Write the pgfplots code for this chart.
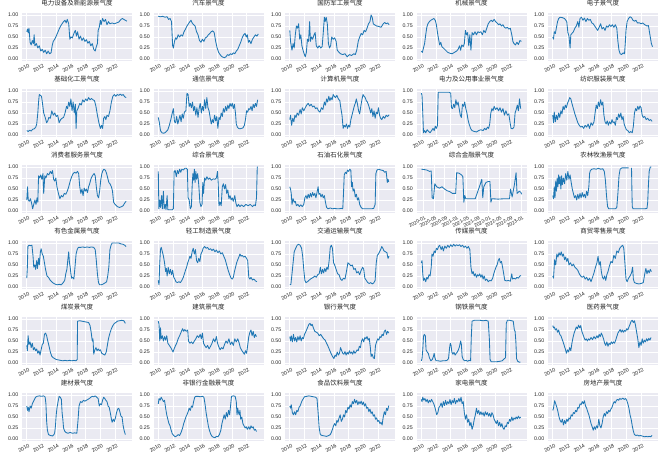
\documentclass[border=0pt]{standalone}
\usepackage{fontspec}
\setmainfont{Liberation Sans}
\newfontfamily\cjk{Noto Sans CJK SC}
\usepackage{pgfplots}
\pgfplotsset{compat=1.18}
\definecolor{bgc}{HTML}{EAEAF2}
\definecolor{c1}{HTML}{1F77B4}
\definecolor{tc}{HTML}{262626}
\pgfplotsset{
  sub/.style={
    scale only axis, width=110bp, height=48.4bp,
    axis background/.style={fill=bgc},
    axis line style={draw=none},
    major tick length=0pt,
    grid=major, grid style={white, line width=0.7bp},
    xmin=2009.35, xmax=2024.3, ymin=-0.05, ymax=1.05,
    xtick={2010,2012,2014,2016,2018,2020,2022},
    xticklabels={2010,2012,2014,2016,2018,2020,2022},
    ytick={0,0.25,0.5,0.75,1},
    yticklabels={0.00,0.25,0.50,0.75,1.00},
    yticklabel style={font=\fontsize{5.3}{6}\selectfont, text=tc, inner sep=0pt, xshift=-3.5bp},
    xticklabel style={font=\fontsize{5.3}{6}\selectfont, text=tc, rotate=30, anchor=north east, inner sep=0pt, yshift=-2.5bp},
    title style={font=\cjk\fontsize{6.5}{7}\selectfont, text=tc, at={(0.5,1)}, anchor=south, inner sep=1bp},
    unbounded coords=jump,
  }
}
\newcommand{\panel}[5][]{%
  \begin{axis}[sub, at={({22bp+131.5bp*#2},{-12.8bp-76bp*#3})}, anchor=north west, title={#4}, #1]
  \addplot[c1, line width=0.85bp, no marks, line join=round] coordinates {#5};
  \end{axis}}
\begin{document}
\begin{tikzpicture}
\path[use as bounding box] (0,0) rectangle (664bp,-459bp);
% Row 1
\panel{0}{0}{电力设备及新能源景气度}{(2010.0,0.62)(2010.1,0.68)(2010.2,0.60)(2010.3,0.70)(2010.45,0.38)(2010.6,0.32)(2010.75,0.42)(2010.9,0.35)(2011.0,0.55)(2011.1,0.30)(2011.3,0.35)(2011.5,0.25)(2011.7,0.30)(2011.9,0.18)(2012.1,0.22)(2012.3,0.15)(2012.5,0.20)(2012.7,0.12)(2012.9,0.18)(2013.1,0.12)(2013.3,0.14)(2013.45,0.30)(2013.6,0.40)(2013.8,0.45)(2014.0,0.52)(2014.2,0.60)(2014.4,0.68)(2014.6,0.75)(2014.8,0.80)(2015.0,0.85)(2015.2,0.88)(2015.35,0.82)(2015.5,0.90)(2015.7,0.80)(2015.85,0.45)(2016.0,0.50)(2016.2,0.48)(2016.4,0.58)(2016.6,0.65)(2016.75,0.52)(2016.9,0.62)(2017.1,0.45)(2017.3,0.52)(2017.5,0.42)(2017.7,0.48)(2017.9,0.40)(2018.1,0.44)(2018.3,0.36)(2018.5,0.40)(2018.7,0.30)(2018.9,0.35)(2019.1,0.22)(2019.3,0.18)(2019.45,0.28)(2019.6,0.35)(2019.7,0.65)(2019.85,0.72)(2020.0,0.88)(2020.1,0.78)(2020.3,0.92)(2020.5,0.85)(2020.7,0.90)(2020.9,0.78)(2021.1,0.85)(2021.3,0.80)(2021.6,0.82)(2021.9,0.80)(2022.2,0.82)(2022.5,0.84)(2022.8,0.90)(2023.0,0.92)(2023.2,0.90)(2023.4,0.88)(2023.6,0.86)}
\panel{1}{0}{汽车景气度}{(2010.0,0.97)(2010.3,0.96)(2010.6,0.97)(2010.9,0.95)(2011.2,0.96)(2011.4,0.90)(2011.6,0.92)(2011.8,0.85)(2011.95,0.30)(2012.05,0.25)(2012.2,0.40)(2012.35,0.48)(2012.5,0.45)(2012.7,0.55)(2012.9,0.50)(2013.1,0.55)(2013.3,0.52)(2013.5,0.62)(2013.7,0.68)(2013.9,0.75)(2014.1,0.80)(2014.3,0.85)(2014.45,0.88)(2014.6,0.82)(2014.8,0.78)(2015.0,0.75)(2015.2,0.62)(2015.4,0.55)(2015.6,0.42)(2015.8,0.38)(2016.0,0.45)(2016.2,0.40)(2016.4,0.48)(2016.6,0.50)(2016.8,0.55)(2017.0,0.58)(2017.2,0.62)(2017.4,0.64)(2017.6,0.60)(2017.8,0.40)(2018.0,0.25)(2018.2,0.15)(2018.4,0.10)(2018.6,0.06)(2018.8,0.04)(2019.0,0.03)(2019.2,0.05)(2019.4,0.10)(2019.6,0.08)(2019.8,0.12)(2020.0,0.10)(2020.2,0.14)(2020.4,0.12)(2020.6,0.18)(2020.8,0.22)(2021.0,0.30)(2021.2,0.38)(2021.4,0.48)(2021.6,0.55)(2021.8,0.58)(2021.95,0.50)(2022.1,0.55)(2022.25,0.38)(2022.4,0.42)(2022.6,0.35)(2022.8,0.45)(2023.0,0.50)(2023.2,0.55)(2023.4,0.52)(2023.6,0.57)}
\panel{2}{0}{国防军工景气度}{(2010.0,0.65)(2010.1,0.40)(2010.2,0.30)(2010.3,0.20)(2010.45,0.35)(2010.6,0.25)(2010.75,0.55)(2010.9,0.75)(2011.05,0.70)(2011.2,0.80)(2011.35,0.45)(2011.5,0.55)(2011.65,0.30)(2011.8,0.20)(2011.95,0.12)(2012.1,0.05)(2012.25,0.15)(2012.4,0.45)(2012.55,0.40)(2012.7,0.85)(2012.8,0.40)(2012.95,0.50)(2013.1,0.45)(2013.3,0.55)(2013.45,0.60)(2013.6,0.30)(2013.8,0.25)(2014.0,0.30)(2014.2,0.25)(2014.4,0.28)(2014.55,0.60)(2014.7,0.95)(2014.8,0.85)(2014.95,0.95)(2015.1,0.80)(2015.25,0.35)(2015.4,0.25)(2015.55,0.30)(2015.7,0.50)(2015.9,0.45)(2016.1,0.48)(2016.3,0.40)(2016.45,0.20)(2016.7,0.15)(2016.9,0.12)(2017.2,0.10)(2017.5,0.12)(2017.8,0.05)(2018.1,0.10)(2018.4,0.08)(2018.7,0.12)(2018.9,0.10)(2019.1,0.20)(2019.3,0.40)(2019.5,0.50)(2019.7,0.58)(2019.9,0.55)(2020.1,0.65)(2020.3,0.62)(2020.5,0.70)(2020.7,0.80)(2020.9,0.85)(2021.05,1.00)(2021.2,0.95)(2021.35,0.80)(2021.5,0.78)(2021.8,0.75)(2022.1,0.74)(2022.4,0.72)(2022.7,0.80)(2022.9,0.83)(2023.1,0.80)(2023.3,0.82)(2023.5,0.78)}
\panel{3}{0}{机械景气度}{(2010.0,0.18)(2010.15,0.15)(2010.3,0.25)(2010.45,0.35)(2010.6,0.55)(2010.75,0.72)(2010.9,0.80)(2011.1,0.85)(2011.3,0.88)(2011.5,0.90)(2011.7,0.92)(2011.9,0.88)(2012.05,0.78)(2012.2,0.60)(2012.35,0.45)(2012.5,0.32)(2012.65,0.38)(2012.8,0.28)(2013.0,0.25)(2013.3,0.20)(2013.6,0.15)(2013.9,0.13)(2014.2,0.12)(2014.5,0.15)(2014.8,0.18)(2015.0,0.22)(2015.2,0.30)(2015.35,0.20)(2015.5,0.32)(2015.7,0.28)(2015.85,0.35)(2016.0,0.65)(2016.15,0.55)(2016.3,0.60)(2016.45,0.30)(2016.6,0.55)(2016.75,0.20)(2016.9,0.60)(2017.1,0.55)(2017.3,0.62)(2017.5,0.55)(2017.7,0.62)(2017.9,0.60)(2018.1,0.62)(2018.3,0.55)(2018.5,0.65)(2018.7,0.60)(2018.9,0.70)(2019.1,0.80)(2019.3,0.85)(2019.5,0.88)(2019.7,0.85)(2019.9,0.90)(2020.1,0.85)(2020.3,0.82)(2020.5,0.78)(2020.7,0.80)(2020.9,0.75)(2021.1,0.78)(2021.3,0.72)(2021.5,0.70)(2021.7,0.72)(2021.9,0.68)(2022.1,0.70)(2022.3,0.55)(2022.45,0.40)(2022.6,0.35)(2022.8,0.32)(2023.0,0.38)(2023.2,0.33)(2023.4,0.42)(2023.6,0.40)}
\panel{4}{0}{电子景气度}{(2010.0,0.50)(2010.1,0.45)(2010.2,0.62)(2010.35,0.58)(2010.5,0.72)(2010.65,0.85)(2010.8,0.92)(2011.0,0.95)(2011.3,0.94)(2011.6,0.92)(2011.9,0.85)(2012.05,0.60)(2012.2,0.52)(2012.35,0.25)(2012.45,0.55)(2012.6,0.58)(2012.8,0.62)(2013.0,0.70)(2013.2,0.75)(2013.4,0.85)(2013.55,0.72)(2013.7,0.92)(2013.9,0.95)(2014.1,0.88)(2014.3,0.93)(2014.5,0.85)(2014.7,0.92)(2014.9,0.88)(2015.1,0.90)(2015.3,0.82)(2015.5,0.80)(2015.7,0.75)(2015.9,0.70)(2016.1,0.65)(2016.3,0.72)(2016.5,0.80)(2016.7,0.68)(2016.9,0.72)(2017.1,0.65)(2017.3,0.75)(2017.5,0.72)(2017.7,0.78)(2017.9,0.74)(2018.1,0.78)(2018.3,0.72)(2018.5,0.78)(2018.7,0.70)(2018.85,0.40)(2019.0,0.20)(2019.15,0.12)(2019.35,0.10)(2019.55,0.14)(2019.75,0.12)(2019.85,0.35)(2019.95,0.65)(2020.1,0.85)(2020.3,0.92)(2020.5,0.96)(2020.7,0.94)(2020.9,0.88)(2021.1,0.86)(2021.3,0.88)(2021.5,0.82)(2021.8,0.82)(2022.0,0.80)(2022.2,0.82)(2022.5,0.78)(2022.8,0.75)(2023.0,0.76)(2023.2,0.55)(2023.4,0.35)(2023.55,0.28)}
% Row 2
\panel{0}{1}{基础化工景气度}{(2010.0,0.10)(2010.2,0.08)(2010.4,0.11)(2010.6,0.09)(2010.8,0.13)(2011.0,0.14)(2011.2,0.17)(2011.35,0.25)(2011.5,0.50)(2011.6,0.75)(2011.7,0.92)(2011.85,0.90)(2012.0,0.88)(2012.15,0.70)(2012.3,0.50)(2012.5,0.40)(2012.7,0.28)(2012.85,0.32)(2013.0,0.40)(2013.2,0.38)(2013.4,0.55)(2013.6,0.45)(2013.8,0.50)(2014.0,0.42)(2014.2,0.45)(2014.4,0.28)(2014.6,0.35)(2014.8,0.38)(2015.0,0.40)(2015.2,0.50)(2015.4,0.65)(2015.55,0.60)(2015.7,0.75)(2015.85,0.65)(2016.0,0.82)(2016.15,0.55)(2016.3,0.75)(2016.45,0.50)(2016.6,0.70)(2016.7,0.15)(2016.8,0.55)(2017.0,0.62)(2017.2,0.72)(2017.4,0.68)(2017.6,0.80)(2017.8,0.75)(2018.0,0.82)(2018.2,0.78)(2018.4,0.85)(2018.6,0.80)(2018.8,0.83)(2019.0,0.80)(2019.2,0.78)(2019.4,0.65)(2019.6,0.45)(2019.8,0.28)(2020.0,0.15)(2020.15,0.22)(2020.3,0.15)(2020.45,0.38)(2020.6,0.42)(2020.75,0.35)(2020.9,0.45)(2021.1,0.42)(2021.3,0.55)(2021.5,0.75)(2021.7,0.88)(2021.9,0.92)(2022.1,0.88)(2022.3,0.92)(2022.5,0.90)(2022.7,0.93)(2022.9,0.90)(2023.1,0.92)(2023.3,0.87)(2023.5,0.85)}
\panel{1}{1}{通信景气度}{(2010.0,0.40)(2010.15,0.28)(2010.3,0.10)(2010.5,0.05)(2010.7,0.04)(2010.9,0.05)(2011.1,0.08)(2011.3,0.12)(2011.5,0.22)(2011.7,0.35)(2011.9,0.50)(2012.05,0.60)(2012.2,0.30)(2012.35,0.28)(2012.5,0.42)(2012.65,0.25)(2012.8,0.35)(2012.95,0.45)(2013.1,0.30)(2013.25,0.48)(2013.4,0.38)(2013.55,0.52)(2013.75,0.55)(2013.9,0.95)(2014.05,0.92)(2014.2,0.65)(2014.35,0.72)(2014.5,0.62)(2014.65,0.75)(2014.8,0.55)(2014.95,0.65)(2015.1,0.45)(2015.25,0.62)(2015.4,0.40)(2015.55,0.60)(2015.7,0.72)(2015.85,0.50)(2016.0,0.65)(2016.15,0.55)(2016.3,0.80)(2016.45,0.60)(2016.6,0.85)(2016.75,0.62)(2016.9,0.55)(2017.05,0.40)(2017.2,0.25)(2017.35,0.35)(2017.5,0.28)(2017.65,0.45)(2017.8,0.32)(2017.95,0.42)(2018.1,0.15)(2018.25,0.40)(2018.4,0.35)(2018.55,0.50)(2018.7,0.42)(2018.85,0.60)(2019.0,0.52)(2019.15,0.65)(2019.3,0.55)(2019.45,0.68)(2019.6,0.60)(2019.75,0.72)(2019.9,0.65)(2020.05,0.72)(2020.2,0.60)(2020.35,0.70)(2020.5,0.48)(2020.6,0.25)(2020.75,0.18)(2020.9,0.15)(2021.1,0.14)(2021.3,0.15)(2021.5,0.16)(2021.7,0.22)(2021.85,0.35)(2022.0,0.55)(2022.15,0.52)(2022.3,0.60)(2022.45,0.58)(2022.6,0.65)(2022.75,0.55)(2022.9,0.70)(2023.05,0.62)(2023.2,0.72)(2023.35,0.65)(2023.5,0.80)}
\panel{2}{1}{计算机景气度}{(2010.0,0.35)(2010.1,0.45)(2010.25,0.22)(2010.4,0.38)(2010.55,0.30)(2010.7,0.45)(2010.85,0.40)(2011.0,0.50)(2011.2,0.45)(2011.4,0.58)(2011.55,0.48)(2011.7,0.62)(2011.9,0.55)(2012.1,0.62)(2012.3,0.68)(2012.5,0.72)(2012.7,0.66)(2012.9,0.70)(2013.1,0.64)(2013.3,0.66)(2013.5,0.60)(2013.7,0.62)(2013.9,0.55)(2014.1,0.52)(2014.3,0.62)(2014.5,0.58)(2014.7,0.75)(2014.85,0.68)(2015.0,0.82)(2015.15,0.75)(2015.3,0.88)(2015.45,0.78)(2015.6,0.85)(2015.75,0.80)(2015.9,0.92)(2016.05,0.88)(2016.2,0.85)(2016.4,0.90)(2016.6,0.82)(2016.8,0.78)(2016.95,0.60)(2017.1,0.45)(2017.25,0.15)(2017.4,0.22)(2017.55,0.18)(2017.7,0.25)(2017.85,0.15)(2018.0,0.22)(2018.15,0.18)(2018.3,0.35)(2018.45,0.45)(2018.6,0.55)(2018.75,0.65)(2018.9,0.72)(2019.05,0.82)(2019.2,0.70)(2019.35,0.55)(2019.5,0.48)(2019.65,0.65)(2019.8,0.80)(2019.95,0.92)(2020.1,0.88)(2020.25,0.85)(2020.4,0.78)(2020.55,0.75)(2020.7,0.68)(2020.85,0.60)(2021.0,0.50)(2021.15,0.60)(2021.3,0.42)(2021.45,0.55)(2021.6,0.38)(2021.75,0.52)(2021.9,0.48)(2022.05,0.62)(2022.2,0.45)(2022.35,0.38)(2022.5,0.35)(2022.7,0.42)(2022.9,0.38)(2023.1,0.45)(2023.3,0.42)(2023.5,0.46)}
\panel{3}{1}{电力及公用事业景气度}{(2010.0,0.95)(2010.1,0.90)(2010.2,0.50)(2010.3,0.05)(2010.45,0.10)(2010.6,0.05)(2010.8,0.12)(2011.0,0.08)(2011.2,0.05)(2011.4,0.10)(2011.6,0.15)(2011.75,0.10)(2011.9,0.20)(2012.05,0.15)(2012.2,0.22)(2012.3,0.97)(2012.6,0.97)(2013.0,0.97)(2013.4,0.97)(2013.8,0.97)(2014.0,0.95)(2014.1,0.62)(2014.25,0.60)(2014.4,0.70)(2014.55,0.62)(2014.7,0.80)(2014.85,0.68)(2015.0,0.75)(2015.15,0.60)(2015.3,0.45)(2015.45,0.40)(2015.6,0.70)(2015.75,0.65)(2015.9,0.75)(2016.05,0.60)(2016.2,0.50)(2016.35,0.35)(2016.5,0.25)(2016.7,0.15)(2016.9,0.10)(2017.2,0.08)(2017.5,0.07)(2017.8,0.10)(2018.1,0.12)(2018.4,0.10)(2018.6,0.15)(2018.8,0.12)(2019.0,0.18)(2019.15,0.15)(2019.3,0.25)(2019.45,0.50)(2019.6,0.60)(2019.75,0.55)(2019.9,0.65)(2020.1,0.58)(2020.3,0.62)(2020.5,0.55)(2020.7,0.62)(2020.9,0.52)(2021.1,0.60)(2021.3,0.45)(2021.5,0.55)(2021.7,0.45)(2021.9,0.48)(2022.05,0.30)(2022.2,0.15)(2022.4,0.14)(2022.6,0.18)(2022.75,0.50)(2022.9,0.58)(2023.05,0.68)(2023.2,0.55)(2023.35,0.82)(2023.5,0.60)}
\panel{4}{1}{纺织服装景气度}{(2010.0,0.45)(2010.1,0.28)(2010.2,0.52)(2010.35,0.30)(2010.5,0.45)(2010.65,0.35)(2010.8,0.50)(2010.95,0.40)(2011.1,0.55)(2011.25,0.48)(2011.4,0.65)(2011.55,0.58)(2011.7,0.68)(2011.85,0.62)(2012.0,0.72)(2012.15,0.78)(2012.3,0.85)(2012.45,0.82)(2012.6,0.72)(2012.8,0.60)(2013.0,0.48)(2013.2,0.38)(2013.4,0.28)(2013.6,0.22)(2013.8,0.18)(2014.0,0.20)(2014.2,0.15)(2014.4,0.22)(2014.6,0.18)(2014.8,0.25)(2015.0,0.15)(2015.2,0.28)(2015.4,0.22)(2015.6,0.30)(2015.75,0.50)(2015.9,0.68)(2016.05,0.60)(2016.2,0.75)(2016.35,0.65)(2016.5,0.80)(2016.65,0.68)(2016.8,0.75)(2016.95,0.45)(2017.1,0.30)(2017.25,0.25)(2017.4,0.32)(2017.55,0.22)(2017.7,0.30)(2017.9,0.25)(2018.05,0.35)(2018.2,0.28)(2018.35,0.30)(2018.5,0.22)(2018.65,0.40)(2018.8,0.35)(2018.95,0.48)(2019.1,0.40)(2019.25,0.50)(2019.4,0.35)(2019.55,0.42)(2019.7,0.25)(2019.85,0.18)(2020.0,0.12)(2020.2,0.10)(2020.4,0.05)(2020.6,0.08)(2020.8,0.05)(2020.95,0.20)(2021.1,0.50)(2021.25,0.60)(2021.4,0.55)(2021.55,0.65)(2021.7,0.58)(2021.85,0.66)(2022.0,0.62)(2022.15,0.45)(2022.3,0.40)(2022.5,0.42)(2022.7,0.35)(2022.9,0.38)(2023.1,0.33)(2023.3,0.35)(2023.5,0.31)}
% Row 3
\panel{0}{2}{消费者服务景气度}{(2010.0,0.25)(2010.1,0.55)(2010.2,0.25)(2010.35,0.22)(2010.5,0.28)(2010.65,0.18)(2010.8,0.05)(2010.95,0.15)(2011.1,0.25)(2011.25,0.15)(2011.4,0.30)(2011.5,0.20)(2011.6,0.80)(2011.75,0.75)(2011.9,0.82)(2012.05,0.72)(2012.2,0.85)(2012.3,0.40)(2012.45,0.80)(2012.6,0.75)(2012.8,0.85)(2013.0,0.82)(2013.2,0.90)(2013.35,0.85)(2013.5,0.92)(2013.65,0.72)(2013.8,0.68)(2013.95,0.75)(2014.1,0.55)(2014.3,0.40)(2014.5,0.28)(2014.7,0.35)(2014.9,0.32)(2015.1,0.40)(2015.3,0.38)(2015.5,0.45)(2015.7,0.55)(2015.9,0.68)(2016.1,0.78)(2016.3,0.85)(2016.5,0.88)(2016.7,0.86)(2016.9,0.90)(2017.05,0.85)(2017.2,0.55)(2017.35,0.40)(2017.5,0.50)(2017.65,0.35)(2017.8,0.52)(2017.95,0.45)(2018.1,0.50)(2018.25,0.42)(2018.4,0.55)(2018.55,0.62)(2018.7,0.72)(2018.85,0.78)(2019.0,0.82)(2019.15,0.85)(2019.3,0.80)(2019.45,0.55)(2019.6,0.35)(2019.75,0.30)(2019.9,0.45)(2020.05,0.70)(2020.2,0.85)(2020.35,0.92)(2020.5,0.95)(2020.7,0.92)(2020.85,0.85)(2021.0,0.75)(2021.15,0.65)(2021.3,0.62)(2021.5,0.55)(2021.65,0.45)(2021.8,0.20)(2022.0,0.15)(2022.3,0.10)(2022.6,0.08)(2022.9,0.10)(2023.1,0.12)(2023.3,0.18)(2023.5,0.22)}
\panel{1}{2}{综合景气度}{(2010.0,0.90)(2010.08,0.05)(2010.2,0.25)(2010.3,0.08)(2010.45,0.35)(2010.55,0.05)(2010.7,0.45)(2010.8,0.05)(2010.95,0.15)(2011.05,0.03)(2011.2,0.35)(2011.3,0.03)(2011.6,0.03)(2011.9,0.03)(2012.05,0.05)(2012.15,0.90)(2012.3,0.92)(2012.45,0.78)(2012.6,0.92)(2012.75,0.85)(2012.9,0.95)(2013.05,0.88)(2013.2,0.95)(2013.4,0.93)(2013.6,0.97)(2013.8,0.97)(2013.95,0.95)(2014.05,0.30)(2014.2,0.25)(2014.35,0.05)(2014.5,0.10)(2014.6,0.55)(2014.7,0.85)(2014.8,0.70)(2014.9,0.95)(2015.0,0.65)(2015.1,0.90)(2015.2,0.72)(2015.35,0.85)(2015.5,0.60)(2015.65,0.20)(2015.8,0.10)(2015.95,0.15)(2016.05,0.65)(2016.15,0.40)(2016.3,0.75)(2016.45,0.70)(2016.6,0.78)(2016.8,0.72)(2017.0,0.75)(2017.2,0.70)(2017.45,0.73)(2017.7,0.72)(2017.9,0.75)(2018.05,0.90)(2018.15,0.60)(2018.25,0.12)(2018.4,0.20)(2018.55,0.12)(2018.7,0.55)(2018.85,0.62)(2019.0,0.50)(2019.15,0.60)(2019.3,0.40)(2019.45,0.48)(2019.6,0.28)(2019.75,0.35)(2019.9,0.25)(2020.05,0.30)(2020.2,0.22)(2020.4,0.35)(2020.55,0.18)(2020.7,0.10)(2020.9,0.15)(2021.1,0.10)(2021.3,0.14)(2021.6,0.10)(2021.9,0.15)(2022.2,0.12)(2022.5,0.15)(2022.8,0.10)(2023.0,0.14)(2023.2,0.12)(2023.35,0.30)(2023.45,1.00)(2023.55,1.00)}
\panel{2}{2}{石油石化景气度}{(2010.0,0.55)(2010.1,0.50)(2010.2,0.40)(2010.3,0.15)(2010.45,0.28)(2010.6,0.20)(2010.75,0.22)(2010.9,0.12)(2011.1,0.15)(2011.3,0.10)(2011.5,0.14)(2011.7,0.10)(2011.9,0.15)(2012.05,0.30)(2012.2,0.35)(2012.35,0.28)(2012.5,0.38)(2012.65,0.30)(2012.8,0.40)(2012.95,0.32)(2013.1,0.42)(2013.25,0.35)(2013.4,0.40)(2013.55,0.30)(2013.7,0.42)(2013.85,0.55)(2013.95,0.38)(2014.1,0.40)(2014.25,0.32)(2014.4,0.38)(2014.55,0.30)(2014.7,0.35)(2014.85,0.20)(2015.0,0.08)(2015.2,0.05)(2015.5,0.07)(2015.8,0.05)(2016.1,0.06)(2016.4,0.05)(2016.7,0.05)(2017.0,0.06)(2017.2,0.05)(2017.3,0.40)(2017.4,0.82)(2017.55,0.88)(2017.7,0.85)(2017.85,0.93)(2018.0,0.90)(2018.15,0.95)(2018.3,0.92)(2018.4,0.55)(2018.5,0.65)(2018.6,0.45)(2018.75,0.50)(2018.9,0.32)(2019.05,0.38)(2019.2,0.25)(2019.35,0.30)(2019.5,0.15)(2019.7,0.08)(2019.9,0.05)(2020.2,0.05)(2020.5,0.05)(2020.8,0.05)(2021.1,0.05)(2021.4,0.06)(2021.6,0.15)(2021.7,0.85)(2021.85,0.93)(2022.1,0.95)(2022.4,0.93)(2022.7,0.92)(2022.9,0.88)(2023.1,0.90)(2023.25,0.65)(2023.35,0.72)(2023.45,0.66)}
\panel[xmin=2019.8, xmax=2023.17, xtick={2020,2020.3333,2020.6667,2021,2021.3333,2021.6667,2022,2022.3333,2022.6667,2023}, xticklabels={2020-01,2020-05,2020-09,2021-01,2021-05,2021-09,2022-01,2022-05,2022-09,2023-01}, xticklabel style={font=\fontsize{5}{6}\selectfont}]{3}{2}{综合金融景气度}{(2019.95,0.95)(2020.05,0.94)(2020.12,0.93)(2020.2,0.90)(2020.25,0.91)(2020.28,0.30)(2020.32,0.28)(2020.36,0.62)(2020.42,0.55)(2020.5,0.52)(2020.58,0.55)(2020.66,0.50)(2020.74,0.46)(2020.82,0.44)(2020.9,0.40)(2021.0,0.40)(2021.03,0.87)(2021.1,0.86)(2021.18,0.82)(2021.22,0.78)(2021.25,0.20)(2021.28,0.35)(2021.31,0.28)(2021.4,0.28)(2021.5,0.28)(2021.6,0.28)(2021.68,0.45)(2021.75,0.60)(2021.8,0.72)(2021.83,0.30)(2021.86,0.55)(2021.93,0.65)(2022.0,0.67)(2022.05,0.67)(2022.08,0.20)(2022.11,0.28)(2022.3,0.27)(2022.5,0.28)(2022.65,0.28)(2022.68,0.50)(2022.73,0.32)(2022.8,0.60)(2022.85,0.87)(2022.88,0.40)(2022.95,0.45)(2023.0,0.42)(2023.02,0.38)}
\panel{4}{2}{农林牧渔景气度}{(2010.0,0.35)(2010.1,0.28)(2010.2,0.55)(2010.3,0.30)(2010.4,0.68)(2010.5,0.45)(2010.6,0.75)(2010.7,0.55)(2010.8,0.82)(2010.9,0.62)(2011.0,0.78)(2011.1,0.50)(2011.2,0.80)(2011.3,0.60)(2011.45,0.75)(2011.6,0.62)(2011.75,0.85)(2011.9,0.70)(2012.05,0.90)(2012.2,0.72)(2012.35,0.82)(2012.5,0.65)(2012.65,0.50)(2012.8,0.40)(2012.95,0.30)(2013.1,0.35)(2013.25,0.25)(2013.4,0.38)(2013.55,0.28)(2013.7,0.40)(2013.85,0.30)(2014.0,0.42)(2014.15,0.32)(2014.3,0.38)(2014.45,0.30)(2014.6,0.45)(2014.75,0.35)(2014.9,0.55)(2015.0,0.85)(2015.1,0.92)(2015.3,0.95)(2015.6,0.96)(2015.9,0.95)(2016.2,0.97)(2016.5,0.95)(2016.8,0.96)(2017.0,0.90)(2017.15,0.70)(2017.3,0.35)(2017.45,0.10)(2017.6,0.05)(2017.9,0.05)(2018.2,0.05)(2018.5,0.05)(2018.7,0.08)(2018.85,0.40)(2019.0,0.80)(2019.15,0.95)(2019.4,0.98)(2019.7,0.98)(2020.0,0.98)(2020.3,0.98)(2020.5,nan)(2020.7,0.98)(2020.75,0.50)(2020.8,0.10)(2020.9,0.05)(2021.3,0.05)(2021.7,0.05)(2022.1,0.05)(2022.5,0.05)(2022.8,0.06)(2022.9,0.20)(2023.0,0.60)(2023.1,0.90)(2023.25,1.00)(2023.4,1.00)}
% Row 4
\panel{0}{3}{有色金属景气度}{(2010.0,0.20)(2010.08,0.45)(2010.15,0.92)(2010.3,0.95)(2010.5,0.94)(2010.7,0.95)(2010.85,0.70)(2010.95,0.45)(2011.1,0.50)(2011.2,0.40)(2011.35,0.60)(2011.45,0.42)(2011.6,0.65)(2011.7,0.50)(2011.85,0.80)(2011.95,0.87)(2012.1,0.75)(2012.25,0.70)(2012.4,0.55)(2012.55,0.40)(2012.75,0.25)(2012.95,0.22)(2013.2,0.15)(2013.5,0.10)(2013.8,0.07)(2014.1,0.05)(2014.4,0.06)(2014.7,0.05)(2014.95,0.10)(2015.15,0.15)(2015.3,0.30)(2015.45,0.40)(2015.6,0.65)(2015.7,0.80)(2015.8,0.55)(2015.9,0.45)(2016.0,0.30)(2016.1,0.20)(2016.25,0.22)(2016.4,0.18)(2016.55,0.45)(2016.7,0.75)(2016.85,0.85)(2017.0,0.90)(2017.3,0.90)(2017.6,0.91)(2017.9,0.90)(2018.2,0.91)(2018.5,0.90)(2018.8,0.91)(2019.1,0.90)(2019.3,0.85)(2019.45,0.60)(2019.6,0.30)(2019.75,0.10)(2019.9,0.05)(2020.1,0.05)(2020.3,0.06)(2020.5,0.08)(2020.7,0.10)(2020.85,0.12)(2021.0,0.25)(2021.15,0.45)(2021.3,0.85)(2021.45,0.95)(2021.6,1.00)(2021.9,1.00)(2022.2,1.00)(2022.5,1.00)(2022.8,0.98)(2023.1,0.97)(2023.3,0.95)(2023.5,0.92)}
\panel{1}{3}{轻工制造景气度}{(2010.0,0.15)(2010.1,0.05)(2010.2,0.55)(2010.3,0.85)(2010.4,0.90)(2010.55,0.80)(2010.7,0.70)(2010.85,0.55)(2011.0,0.35)(2011.1,0.42)(2011.2,0.25)(2011.35,0.45)(2011.5,0.30)(2011.65,0.40)(2011.8,0.28)(2011.95,0.38)(2012.1,0.22)(2012.25,0.18)(2012.4,0.12)(2012.6,0.10)(2012.8,0.12)(2013.0,0.10)(2013.2,0.15)(2013.4,0.22)(2013.55,0.30)(2013.7,0.38)(2013.85,0.45)(2014.0,0.55)(2014.15,0.62)(2014.3,0.70)(2014.45,0.65)(2014.6,0.80)(2014.75,0.88)(2014.9,0.75)(2015.05,0.85)(2015.2,0.60)(2015.35,0.55)(2015.5,0.65)(2015.65,0.58)(2015.8,0.75)(2015.95,0.80)(2016.1,0.88)(2016.3,0.92)(2016.5,0.88)(2016.7,0.90)(2016.9,0.85)(2017.1,0.87)(2017.3,0.83)(2017.5,0.86)(2017.7,0.80)(2017.9,0.84)(2018.1,0.78)(2018.3,0.82)(2018.5,0.75)(2018.7,0.78)(2018.9,0.70)(2019.1,0.62)(2019.3,0.50)(2019.5,0.38)(2019.7,0.28)(2019.9,0.20)(2020.05,0.18)(2020.2,0.22)(2020.35,0.35)(2020.5,0.45)(2020.65,0.55)(2020.8,0.62)(2020.95,0.68)(2021.1,0.75)(2021.25,0.70)(2021.4,0.72)(2021.6,0.68)(2021.8,0.70)(2022.0,0.65)(2022.15,0.60)(2022.3,0.22)(2022.45,0.18)(2022.6,0.22)(2022.8,0.16)(2023.0,0.18)(2023.2,0.14)(2023.4,0.12)}
\panel{2}{3}{交通运输景气度}{(2010.0,0.05)(2010.15,0.06)(2010.3,0.30)(2010.45,0.55)(2010.6,0.80)(2010.8,0.88)(2011.0,0.95)(2011.2,0.97)(2011.4,0.95)(2011.6,0.88)(2011.75,0.70)(2011.9,0.40)(2012.05,0.15)(2012.2,0.10)(2012.4,0.12)(2012.6,0.15)(2012.8,0.18)(2013.0,0.20)(2013.2,0.22)(2013.4,0.25)(2013.6,0.22)(2013.8,0.28)(2014.0,0.30)(2014.15,0.45)(2014.3,0.30)(2014.45,0.40)(2014.6,0.32)(2014.75,0.42)(2014.9,0.35)(2015.05,0.45)(2015.2,0.40)(2015.35,0.60)(2015.5,0.90)(2015.65,0.95)(2015.8,0.88)(2015.95,0.55)(2016.1,0.50)(2016.3,0.40)(2016.5,0.30)(2016.7,0.28)(2016.9,0.18)(2017.1,0.15)(2017.3,0.20)(2017.5,0.18)(2017.7,0.35)(2017.9,0.55)(2018.1,0.52)(2018.3,0.48)(2018.5,0.50)(2018.7,0.40)(2018.9,0.42)(2019.1,0.32)(2019.3,0.35)(2019.5,0.28)(2019.7,0.38)(2019.9,0.45)(2020.05,0.40)(2020.2,0.20)(2020.4,0.15)(2020.6,0.10)(2020.8,0.08)(2021.0,0.10)(2021.2,0.07)(2021.4,0.09)(2021.6,0.15)(2021.75,0.55)(2021.9,0.72)(2022.05,0.75)(2022.2,0.80)(2022.35,0.85)(2022.5,0.92)(2022.65,0.88)(2022.8,0.82)(2023.0,0.80)(2023.2,0.78)(2023.35,0.65)(2023.5,0.70)}
\panel{3}{3}{传媒景气度}{(2010.0,0.55)(2010.1,0.60)(2010.2,0.30)(2010.3,0.15)(2010.45,0.20)(2010.6,0.12)(2010.75,0.22)(2010.9,0.18)(2011.05,0.28)(2011.2,0.25)(2011.35,0.45)(2011.45,0.75)(2011.6,0.70)(2011.75,0.82)(2011.9,0.78)(2012.05,0.88)(2012.2,0.85)(2012.35,0.92)(2012.5,0.95)(2012.7,0.85)(2012.85,0.92)(2013.0,0.82)(2013.2,0.93)(2013.4,0.88)(2013.6,0.95)(2013.8,0.90)(2014.0,0.96)(2014.2,0.92)(2014.4,0.97)(2014.6,0.93)(2014.8,0.96)(2015.0,0.94)(2015.2,0.96)(2015.4,0.92)(2015.6,0.95)(2015.8,0.90)(2016.0,0.93)(2016.2,0.88)(2016.4,0.92)(2016.6,0.85)(2016.75,0.45)(2016.9,0.30)(2017.05,0.35)(2017.2,0.25)(2017.35,0.30)(2017.5,0.22)(2017.65,0.28)(2017.8,0.25)(2017.95,0.30)(2018.1,0.22)(2018.25,0.28)(2018.4,0.18)(2018.55,0.25)(2018.7,0.15)(2018.9,0.18)(2019.1,0.12)(2019.3,0.15)(2019.5,0.14)(2019.7,0.20)(2019.85,0.30)(2020.0,0.38)(2020.15,0.45)(2020.3,0.50)(2020.45,0.60)(2020.6,0.65)(2020.75,0.55)(2020.9,0.58)(2021.05,0.45)(2021.2,0.30)(2021.35,0.15)(2021.6,0.14)(2021.85,0.15)(2022.1,0.13)(2022.3,0.30)(2022.4,0.18)(2022.6,0.20)(2022.8,0.18)(2023.0,0.22)(2023.2,0.20)(2023.4,0.25)(2023.55,0.26)}
\panel{4}{3}{商贸零售景气度}{(2010.0,0.25)(2010.1,0.20)(2010.25,0.62)(2010.4,0.50)(2010.55,0.75)(2010.7,0.68)(2010.85,0.78)(2011.0,0.72)(2011.15,0.80)(2011.3,0.70)(2011.45,0.75)(2011.6,0.62)(2011.75,0.68)(2011.9,0.58)(2012.05,0.65)(2012.2,0.50)(2012.4,0.55)(2012.6,0.48)(2012.8,0.52)(2013.0,0.45)(2013.2,0.42)(2013.4,0.38)(2013.6,0.30)(2013.8,0.25)(2014.0,0.22)(2014.2,0.25)(2014.4,0.18)(2014.6,0.22)(2014.8,0.15)(2015.0,0.20)(2015.2,0.12)(2015.4,0.22)(2015.6,0.32)(2015.8,0.45)(2016.0,0.55)(2016.15,0.70)(2016.3,0.50)(2016.45,0.58)(2016.6,0.35)(2016.75,0.22)(2016.9,0.18)(2017.05,0.25)(2017.2,0.15)(2017.35,0.28)(2017.5,0.35)(2017.7,0.48)(2017.9,0.58)(2018.1,0.55)(2018.3,0.72)(2018.5,0.65)(2018.7,0.82)(2018.9,0.78)(2019.1,0.88)(2019.3,0.92)(2019.5,0.95)(2019.65,0.88)(2019.8,0.55)(2019.95,0.18)(2020.1,0.12)(2020.3,0.20)(2020.5,0.25)(2020.7,0.32)(2020.85,0.45)(2020.95,0.18)(2021.1,0.10)(2021.4,0.08)(2021.7,0.07)(2022.0,0.08)(2022.3,0.10)(2022.5,0.30)(2022.65,0.42)(2022.8,0.30)(2022.95,0.38)(2023.1,0.32)(2023.25,0.40)(2023.4,0.35)}
% Row 5
\panel{0}{4}{煤炭景气度}{(2010.0,0.40)(2010.08,0.28)(2010.18,0.62)(2010.3,0.42)(2010.45,0.48)(2010.6,0.35)(2010.75,0.45)(2010.9,0.30)(2011.05,0.35)(2011.2,0.28)(2011.35,0.32)(2011.5,0.22)(2011.65,0.28)(2011.8,0.18)(2011.95,0.30)(2012.1,0.42)(2012.25,0.45)(2012.4,0.65)(2012.55,0.68)(2012.7,0.62)(2012.85,0.50)(2013.0,0.40)(2013.2,0.25)(2013.4,0.15)(2013.6,0.12)(2013.8,0.10)(2014.0,0.08)(2014.3,0.07)(2014.6,0.06)(2014.9,0.05)(2015.2,0.06)(2015.5,0.05)(2015.8,0.06)(2016.1,0.05)(2016.4,0.06)(2016.7,0.05)(2016.85,0.08)(2016.9,0.95)(2017.2,0.96)(2017.5,0.95)(2017.8,0.94)(2018.1,0.93)(2018.4,0.92)(2018.6,0.85)(2018.75,0.70)(2018.9,0.50)(2019.0,0.55)(2019.1,0.20)(2019.25,0.30)(2019.4,0.35)(2019.55,0.28)(2019.7,0.32)(2019.85,0.28)(2020.0,0.30)(2020.2,0.22)(2020.4,0.20)(2020.6,0.18)(2020.8,0.25)(2020.95,0.40)(2021.1,0.55)(2021.3,0.68)(2021.5,0.78)(2021.7,0.85)(2021.9,0.90)(2022.1,0.92)(2022.3,0.95)(2022.6,0.96)(2022.9,0.97)(2023.2,0.96)(2023.4,0.90)}
\panel{1}{4}{建筑景气度}{(2010.0,0.95)(2010.1,0.88)(2010.2,0.50)(2010.3,0.80)(2010.4,0.55)(2010.55,0.62)(2010.7,0.50)(2010.85,0.60)(2011.0,0.52)(2011.15,0.62)(2011.3,0.45)(2011.5,0.40)(2011.7,0.35)(2011.85,0.30)(2012.0,0.25)(2012.15,0.32)(2012.3,0.38)(2012.5,0.45)(2012.7,0.55)(2012.9,0.62)(2013.1,0.70)(2013.3,0.78)(2013.45,0.72)(2013.6,0.76)(2013.8,0.72)(2014.0,0.75)(2014.1,0.50)(2014.3,0.45)(2014.5,0.48)(2014.7,0.44)(2014.9,0.50)(2015.1,0.55)(2015.3,0.62)(2015.5,0.58)(2015.7,0.65)(2015.85,0.55)(2016.0,0.68)(2016.15,0.45)(2016.3,0.40)(2016.5,0.35)(2016.7,0.40)(2016.9,0.32)(2017.1,0.38)(2017.3,0.45)(2017.5,0.55)(2017.7,0.48)(2017.9,0.60)(2018.05,0.45)(2018.2,0.38)(2018.4,0.30)(2018.6,0.35)(2018.8,0.32)(2019.0,0.42)(2019.2,0.50)(2019.4,0.45)(2019.6,0.55)(2019.8,0.42)(2020.0,0.48)(2020.2,0.40)(2020.4,0.55)(2020.6,0.48)(2020.8,0.55)(2021.0,0.45)(2021.15,0.35)(2021.3,0.30)(2021.5,0.25)(2021.7,0.20)(2021.85,0.28)(2022.0,0.22)(2022.15,0.40)(2022.3,0.60)(2022.45,0.70)(2022.6,0.75)(2022.75,0.62)(2022.9,0.72)(2023.05,0.58)(2023.2,0.65)(2023.35,0.60)}
\panel{2}{4}{银行景气度}{(2010.0,0.60)(2010.1,0.50)(2010.2,0.62)(2010.35,0.48)(2010.5,0.65)(2010.65,0.50)(2010.8,0.58)(2010.95,0.48)(2011.1,0.60)(2011.25,0.52)(2011.4,0.62)(2011.55,0.50)(2011.7,0.58)(2011.85,0.55)(2012.0,0.65)(2012.2,0.72)(2012.4,0.80)(2012.6,0.88)(2012.75,0.90)(2012.9,0.85)(2013.05,0.88)(2013.2,0.80)(2013.4,0.72)(2013.6,0.70)(2013.8,0.68)(2014.0,0.62)(2014.2,0.65)(2014.4,0.60)(2014.6,0.55)(2014.8,0.52)(2015.0,0.45)(2015.2,0.38)(2015.4,0.30)(2015.6,0.22)(2015.8,0.15)(2016.0,0.10)(2016.15,0.18)(2016.3,0.15)(2016.45,0.25)(2016.6,0.18)(2016.75,0.22)(2016.9,0.35)(2017.05,0.28)(2017.2,0.22)(2017.35,0.20)(2017.5,0.26)(2017.65,0.18)(2017.8,0.24)(2017.95,0.20)(2018.1,0.28)(2018.25,0.22)(2018.4,0.25)(2018.55,0.20)(2018.7,0.28)(2018.85,0.22)(2019.0,0.25)(2019.15,0.30)(2019.3,0.28)(2019.45,0.38)(2019.6,0.35)(2019.75,0.50)(2019.9,0.55)(2020.05,0.48)(2020.2,0.58)(2020.35,0.55)(2020.5,0.60)(2020.65,0.52)(2020.8,0.56)(2020.95,0.35)(2021.05,0.15)(2021.2,0.20)(2021.35,0.12)(2021.5,0.10)(2021.65,0.40)(2021.8,0.48)(2021.95,0.55)(2022.1,0.52)(2022.25,0.60)(2022.4,0.58)(2022.55,0.65)(2022.7,0.62)(2022.85,0.72)(2023.0,0.75)(2023.15,0.65)(2023.3,0.72)(2023.45,0.68)}
\panel{3}{4}{钢铁景气度}{(2010.0,0.05)(2010.1,0.10)(2010.2,0.30)(2010.3,0.60)(2010.4,0.65)(2010.55,0.62)(2010.65,0.30)(2010.8,0.25)(2010.95,0.22)(2011.1,0.12)(2011.3,0.05)(2011.5,0.08)(2011.65,0.15)(2011.75,0.22)(2011.85,0.12)(2012.0,0.05)(2012.3,0.05)(2012.6,0.04)(2012.9,0.05)(2013.2,0.05)(2013.5,0.06)(2013.7,0.10)(2013.85,0.35)(2013.95,0.45)(2014.05,0.40)(2014.15,0.25)(2014.3,0.20)(2014.45,0.24)(2014.6,0.18)(2014.75,0.22)(2014.9,0.25)(2015.05,0.30)(2015.2,0.38)(2015.35,0.50)(2015.45,0.42)(2015.55,0.15)(2015.7,0.08)(2015.9,0.05)(2016.1,0.06)(2016.3,0.04)(2016.5,0.06)(2016.7,0.05)(2016.8,0.60)(2016.9,0.95)(2017.2,0.97)(2017.6,0.97)(2018.0,0.97)(2018.4,0.96)(2018.8,0.97)(2019.1,0.95)(2019.25,0.55)(2019.35,0.08)(2019.5,0.03)(2019.9,0.03)(2020.3,0.03)(2020.7,0.04)(2021.0,0.05)(2021.3,0.10)(2021.45,0.12)(2021.55,0.90)(2021.7,0.97)(2022.0,0.97)(2022.3,0.96)(2022.5,0.95)(2022.65,0.75)(2022.75,0.72)(2022.85,0.50)(2022.95,0.10)(2023.1,0.04)(2023.3,0.02)(2023.45,0.02)}
\panel{4}{4}{医药景气度}{(2010.0,0.85)(2010.1,0.80)(2010.2,0.82)(2010.35,0.75)(2010.5,0.78)(2010.65,0.70)(2010.8,0.75)(2010.95,0.65)(2011.1,0.62)(2011.25,0.55)(2011.4,0.48)(2011.55,0.40)(2011.7,0.32)(2011.85,0.22)(2012.0,0.30)(2012.15,0.25)(2012.3,0.35)(2012.45,0.28)(2012.6,0.45)(2012.75,0.58)(2012.9,0.68)(2013.05,0.75)(2013.2,0.82)(2013.35,0.78)(2013.5,0.86)(2013.65,0.80)(2013.8,0.85)(2013.95,0.72)(2014.1,0.65)(2014.25,0.58)(2014.4,0.52)(2014.55,0.55)(2014.7,0.50)(2014.85,0.55)(2015.0,0.52)(2015.2,0.58)(2015.4,0.53)(2015.6,0.60)(2015.8,0.55)(2016.0,0.62)(2016.15,0.57)(2016.3,0.65)(2016.45,0.60)(2016.6,0.68)(2016.75,0.62)(2016.9,0.55)(2017.05,0.45)(2017.2,0.40)(2017.35,0.48)(2017.5,0.38)(2017.65,0.45)(2017.8,0.42)(2017.95,0.48)(2018.1,0.44)(2018.25,0.48)(2018.4,0.45)(2018.55,0.52)(2018.7,0.60)(2018.85,0.68)(2019.0,0.72)(2019.15,0.76)(2019.3,0.70)(2019.45,0.75)(2019.6,0.70)(2019.75,0.74)(2019.9,0.72)(2020.05,0.78)(2020.2,0.75)(2020.35,0.82)(2020.5,0.88)(2020.65,0.95)(2020.8,0.97)(2020.95,0.92)(2021.1,0.96)(2021.25,0.85)(2021.4,0.70)(2021.55,0.55)(2021.7,0.35)(2021.85,0.48)(2022.0,0.40)(2022.15,0.55)(2022.3,0.45)(2022.45,0.52)(2022.6,0.48)(2022.75,0.55)(2022.9,0.50)(2023.05,0.56)(2023.2,0.52)(2023.35,0.58)}
% Row 6
\panel{0}{5}{建材景气度}{(2010.0,0.75)(2010.1,0.65)(2010.2,0.72)(2010.3,0.62)(2010.45,0.75)(2010.6,0.70)(2010.75,0.80)(2010.9,0.85)(2011.05,0.90)(2011.2,0.95)(2011.4,0.97)(2011.7,0.98)(2012.0,0.97)(2012.3,0.98)(2012.5,0.95)(2012.6,0.80)(2012.7,0.40)(2012.8,0.20)(2012.95,0.10)(2013.2,0.08)(2013.5,0.07)(2013.7,0.10)(2013.8,0.15)(2013.9,0.30)(2014.0,0.55)(2014.1,0.70)(2014.25,0.85)(2014.4,0.97)(2014.55,0.95)(2014.7,0.90)(2014.8,0.60)(2014.9,0.45)(2015.0,0.25)(2015.15,0.18)(2015.3,0.15)(2015.6,0.13)(2015.9,0.15)(2016.2,0.13)(2016.5,0.14)(2016.8,0.13)(2016.95,0.40)(2017.1,0.75)(2017.3,0.85)(2017.5,0.83)(2017.7,0.88)(2017.9,0.86)(2018.1,0.88)(2018.3,0.90)(2018.5,0.92)(2018.7,0.95)(2018.9,0.97)(2019.1,0.96)(2019.3,0.98)(2019.5,0.95)(2019.7,0.92)(2019.85,0.75)(2020.0,0.80)(2020.15,0.78)(2020.3,0.88)(2020.45,0.95)(2020.6,0.92)(2020.75,0.88)(2020.9,0.85)(2021.05,0.75)(2021.2,0.72)(2021.35,0.60)(2021.5,0.45)(2021.6,0.38)(2021.75,0.45)(2021.9,0.40)(2022.05,0.48)(2022.2,0.60)(2022.35,0.68)(2022.5,0.70)(2022.65,0.62)(2022.8,0.52)(2022.95,0.50)(2023.1,0.30)(2023.25,0.18)(2023.4,0.10)}
\panel{1}{5}{非银行金融景气度}{(2010.0,0.80)(2010.1,0.92)(2010.25,0.88)(2010.4,0.95)(2010.55,0.90)(2010.7,0.85)(2010.85,0.88)(2011.0,0.70)(2011.15,0.55)(2011.3,0.45)(2011.45,0.35)(2011.6,0.30)(2011.75,0.20)(2011.9,0.12)(2012.1,0.08)(2012.3,0.05)(2012.5,0.07)(2012.7,0.10)(2012.9,0.08)(2013.1,0.15)(2013.3,0.25)(2013.45,0.35)(2013.6,0.42)(2013.75,0.50)(2013.9,0.55)(2014.05,0.62)(2014.2,0.70)(2014.35,0.65)(2014.5,0.75)(2014.65,0.72)(2014.8,0.85)(2014.95,0.95)(2015.1,0.97)(2015.4,0.97)(2015.7,0.96)(2016.0,0.97)(2016.2,0.95)(2016.35,0.80)(2016.5,0.60)(2016.65,0.45)(2016.8,0.30)(2016.95,0.20)(2017.1,0.12)(2017.3,0.06)(2017.5,0.04)(2017.7,0.03)(2017.9,0.06)(2018.1,0.05)(2018.3,0.10)(2018.5,0.20)(2018.65,0.35)(2018.8,0.45)(2018.95,0.55)(2019.1,0.45)(2019.25,0.60)(2019.4,0.50)(2019.55,0.65)(2019.7,0.55)(2019.85,0.80)(2019.95,0.97)(2020.2,0.98)(2020.45,0.97)(2020.6,0.85)(2020.7,0.55)(2020.8,0.70)(2020.9,0.60)(2021.0,0.55)(2021.1,0.65)(2021.2,0.45)(2021.35,0.50)(2021.5,0.35)(2021.65,0.30)(2021.8,0.25)(2021.95,0.28)(2022.1,0.22)(2022.3,0.28)(2022.45,0.22)(2022.6,0.30)(2022.75,0.25)(2022.9,0.28)(2023.05,0.20)(2023.2,0.22)(2023.35,0.17)}
\panel{2}{5}{食品饮料景气度}{(2010.0,0.75)(2010.1,0.70)(2010.2,0.78)(2010.35,0.60)(2010.5,0.55)(2010.65,0.62)(2010.8,0.55)(2010.95,0.65)(2011.1,0.62)(2011.25,0.72)(2011.4,0.75)(2011.55,0.82)(2011.7,0.88)(2011.85,0.92)(2012.0,0.96)(2012.3,0.97)(2012.6,0.98)(2012.9,0.97)(2013.2,0.96)(2013.5,0.95)(2013.7,0.92)(2013.85,0.60)(2014.0,0.25)(2014.15,0.10)(2014.4,0.08)(2014.7,0.07)(2015.0,0.06)(2015.3,0.08)(2015.5,0.10)(2015.65,0.15)(2015.8,0.22)(2015.95,0.30)(2016.1,0.35)(2016.25,0.30)(2016.4,0.42)(2016.55,0.38)(2016.7,0.48)(2016.85,0.55)(2017.0,0.40)(2017.15,0.45)(2017.3,0.55)(2017.45,0.50)(2017.6,0.65)(2017.75,0.60)(2017.9,0.72)(2018.05,0.68)(2018.2,0.78)(2018.35,0.72)(2018.5,0.85)(2018.65,0.80)(2018.8,0.90)(2018.95,0.82)(2019.1,0.88)(2019.25,0.78)(2019.4,0.85)(2019.55,0.80)(2019.7,0.86)(2019.85,0.78)(2020.0,0.84)(2020.15,0.75)(2020.3,0.80)(2020.45,0.70)(2020.6,0.72)(2020.75,0.62)(2020.9,0.68)(2021.05,0.58)(2021.2,0.62)(2021.35,0.52)(2021.5,0.55)(2021.65,0.45)(2021.8,0.48)(2021.95,0.40)(2022.1,0.42)(2022.25,0.35)(2022.4,0.38)(2022.55,0.32)(2022.7,0.50)(2022.85,0.62)(2023.0,0.55)(2023.15,0.70)(2023.3,0.65)(2023.45,0.76)}
\panel{3}{5}{家电景气度}{(2010.0,0.90)(2010.1,0.85)(2010.2,0.95)(2010.35,0.88)(2010.5,0.92)(2010.65,0.85)(2010.8,0.90)(2010.95,0.82)(2011.1,0.88)(2011.25,0.84)(2011.4,0.90)(2011.55,0.85)(2011.7,0.80)(2011.85,0.72)(2012.0,0.62)(2012.1,0.55)(2012.25,0.60)(2012.4,0.72)(2012.55,0.75)(2012.7,0.82)(2012.85,0.72)(2013.0,0.85)(2013.15,0.76)(2013.3,0.88)(2013.45,0.78)(2013.6,0.85)(2013.75,0.80)(2013.9,0.90)(2014.05,0.78)(2014.2,0.88)(2014.35,0.82)(2014.5,0.92)(2014.65,0.80)(2014.8,0.88)(2014.95,0.84)(2015.1,0.92)(2015.25,0.85)(2015.4,0.95)(2015.55,0.80)(2015.7,0.85)(2015.85,0.60)(2016.0,0.45)(2016.15,0.55)(2016.3,0.38)(2016.45,0.45)(2016.6,0.30)(2016.75,0.38)(2016.9,0.22)(2017.05,0.30)(2017.2,0.45)(2017.35,0.55)(2017.5,0.70)(2017.65,0.58)(2017.8,0.65)(2017.95,0.55)(2018.1,0.62)(2018.25,0.55)(2018.4,0.60)(2018.55,0.52)(2018.7,0.62)(2018.85,0.55)(2019.0,0.60)(2019.15,0.52)(2019.3,0.58)(2019.45,0.50)(2019.6,0.60)(2019.75,0.55)(2019.9,0.45)(2020.05,0.40)(2020.2,0.35)(2020.35,0.42)(2020.5,0.30)(2020.65,0.38)(2020.8,0.28)(2020.95,0.35)(2021.1,0.25)(2021.25,0.22)(2021.4,0.30)(2021.55,0.28)(2021.7,0.38)(2021.85,0.35)(2022.0,0.45)(2022.15,0.40)(2022.3,0.50)(2022.45,0.42)(2022.6,0.48)(2022.75,0.45)(2022.9,0.50)(2023.05,0.46)(2023.2,0.52)(2023.35,0.47)(2023.5,0.50)}
\panel{4}{5}{房地产景气度}{(2010.0,0.65)(2010.1,0.70)(2010.25,0.87)(2010.4,0.80)(2010.55,0.72)(2010.7,0.62)(2010.85,0.50)(2011.0,0.42)(2011.15,0.38)(2011.3,0.45)(2011.45,0.32)(2011.6,0.42)(2011.75,0.35)(2011.9,0.45)(2012.05,0.40)(2012.2,0.48)(2012.35,0.45)(2012.5,0.55)(2012.65,0.52)(2012.8,0.60)(2012.95,0.58)(2013.1,0.65)(2013.25,0.62)(2013.4,0.72)(2013.55,0.70)(2013.7,0.80)(2013.85,0.78)(2014.0,0.85)(2014.15,0.80)(2014.3,0.87)(2014.45,0.75)(2014.6,0.70)(2014.75,0.62)(2014.9,0.55)(2015.05,0.45)(2015.2,0.35)(2015.35,0.28)(2015.5,0.20)(2015.65,0.28)(2015.8,0.22)(2015.95,0.30)(2016.1,0.25)(2016.25,0.45)(2016.4,0.30)(2016.55,0.25)(2016.7,0.35)(2016.85,0.50)(2017.0,0.58)(2017.15,0.52)(2017.3,0.62)(2017.45,0.58)(2017.6,0.65)(2017.75,0.62)(2017.9,0.68)(2018.05,0.72)(2018.2,0.80)(2018.35,0.85)(2018.5,0.82)(2018.65,0.88)(2018.8,0.90)(2018.95,0.88)(2019.1,0.92)(2019.3,0.90)(2019.5,0.93)(2019.7,0.90)(2019.9,0.92)(2020.05,0.88)(2020.2,0.80)(2020.35,0.70)(2020.5,0.55)(2020.65,0.45)(2020.8,0.30)(2020.95,0.18)(2021.1,0.10)(2021.3,0.08)(2021.5,0.09)(2021.7,0.07)(2021.9,0.08)(2022.1,0.07)(2022.3,0.06)(2022.5,0.05)(2022.7,0.06)(2022.9,0.05)(2023.1,0.06)(2023.3,0.05)(2023.5,0.08)}
\end{tikzpicture}
\end{document}
